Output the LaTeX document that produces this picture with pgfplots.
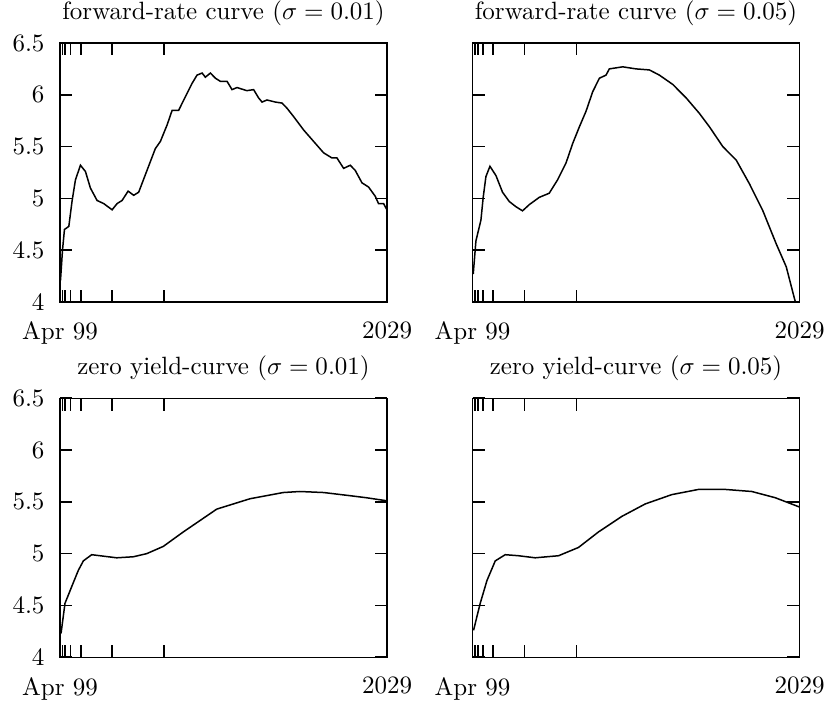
\documentclass[border=0pt]{standalone}
\usepackage{pgfplots}
\pgfplotsset{compat=1.18}

% one panel: 30 years from Apr 99, time in years
\pgfplotsset{
  panel/.style={
    scale only axis, width=130.8pt, height=103.6pt,
    anchor=north west,
    xmin=0, xmax=31.5, ymin=4, ymax=6.5,
    xtick={0,0.25,0.5,1,2,5,10,31.5},
    xticklabels={Apr 99,,,,,,,2029},
    ytick={4,4.5,5,5.5,6,6.5},
    tick pos=both, tick align=inside,
    major tick length=5pt,
    axis line style={line width=0.6pt},
    every tick/.style={black, line width=0.65pt},
    xticklabel style={inner sep=0pt, yshift=-7.8pt},
    yticklabel style={inner sep=0pt, xshift=-6pt},
    title style={inner sep=0pt, yshift=0.7pt},
  },
  curve/.style={black, line width=0.6pt, mark=none},
}

\begin{document}
\begin{tikzpicture}
\path (-24pt,17.2pt) rectangle (307.2pt,-263.6pt);

\begin{axis}[panel, at={(0pt,0pt)},
  title={forward-rate curve ($\sigma = 0.01$)}]
\addplot[curve] coordinates {
 (0.05,4.21) (0.24,4.50) (0.43,4.70) (0.85,4.73) (1.17,4.98) (1.49,5.18)
 (1.97,5.32) (2.45,5.26) (2.93,5.10) (3.57,4.98) (4.21,4.95) (5.02,4.89)
 (5.5,4.95) (5.98,4.98) (6.56,5.07) (7.1,5.03) (7.58,5.06) (8.38,5.27)
 (9.18,5.48) (9.67,5.55) (10.32,5.71) (10.8,5.85) (11.43,5.85) (11.92,5.95)
 (12.72,6.11) (13.2,6.19) (13.69,6.21) (14.0,6.17) (14.49,6.21) (14.97,6.16)
 (15.45,6.13) (16.09,6.13) (16.57,6.05) (17.05,6.07) (18.0,6.04) (18.65,6.05)
 (19.13,5.97) (19.46,5.93) (19.94,5.95) (20.74,5.93) (21.39,5.92) (21.87,5.87)
 (22.5,5.79) (23.47,5.66) (24.43,5.55) (25.39,5.44) (26.2,5.39) (26.68,5.39)
 (27.32,5.29) (27.96,5.32) (28.44,5.27) (29.09,5.15) (29.72,5.11) (30.37,5.02)
 (30.68,4.95) (31.17,4.95) (31.49,4.89)
};
\end{axis}

\begin{axis}[panel, at={(165pt,0pt)}, yticklabels={},
  title={forward-rate curve ($\sigma = 0.05$)}]
\addplot[curve] coordinates {
 (0.07,4.27) (0.33,4.59) (0.81,4.79) (1.03,5.01) (1.29,5.21) (1.68,5.31)
 (2.26,5.22) (2.89,5.06) (3.54,4.97) (4.18,4.92) (4.82,4.88) (5.47,4.94)
 (6.43,5.01) (7.39,5.05) (8.2,5.18) (9.0,5.34) (9.65,5.53) (10.29,5.69)
 (10.93,5.84) (11.58,6.03) (12.22,6.16) (12.86,6.19) (13.18,6.25) (14.47,6.27)
 (15.75,6.25) (17.04,6.24) (18.0,6.19) (19.29,6.10) (20.58,5.97) (21.86,5.82)
 (22.83,5.69) (24.11,5.50) (25.4,5.37) (26.68,5.14) (27.97,4.88) (29.26,4.56)
 (30.22,4.34) (31.02,4.03) (31.2,3.97)
};
\end{axis}

\begin{axis}[panel, at={(0pt,-142.1pt)},
  title={zero yield-curve ($\sigma = 0.01$)}]
\addplot[curve] coordinates {
 (0.1,4.23) (0.48,4.52) (1.12,4.68) (1.77,4.84) (2.25,4.93) (3.05,4.99)
 (3.85,4.98) (5.46,4.96) (7.06,4.97) (8.35,5.00) (9.95,5.07) (11.88,5.21)
 (13.49,5.32) (15.1,5.43) (16.7,5.48) (18.3,5.53) (19.9,5.56) (21.5,5.59)
 (23.1,5.60) (25.4,5.59) (27.9,5.56) (29.5,5.54) (31.5,5.51)
};
\end{axis}

\begin{axis}[panel, at={(165pt,-142.1pt)}, yticklabels={},
  title={zero yield-curve ($\sigma = 0.05$)}]
\addplot[curve] coordinates {
 (0.1,4.26) (0.74,4.52) (1.39,4.74) (2.19,4.93) (3.15,4.99) (4.43,4.98)
 (6.04,4.96) (8.29,4.98) (10.21,5.06) (12.14,5.21) (14.39,5.36) (16.64,5.48)
 (19.2,5.57) (21.77,5.62) (24.34,5.62) (26.9,5.60) (29.16,5.54) (31.5,5.45)
};
\end{axis}
\end{tikzpicture}
\end{document}
